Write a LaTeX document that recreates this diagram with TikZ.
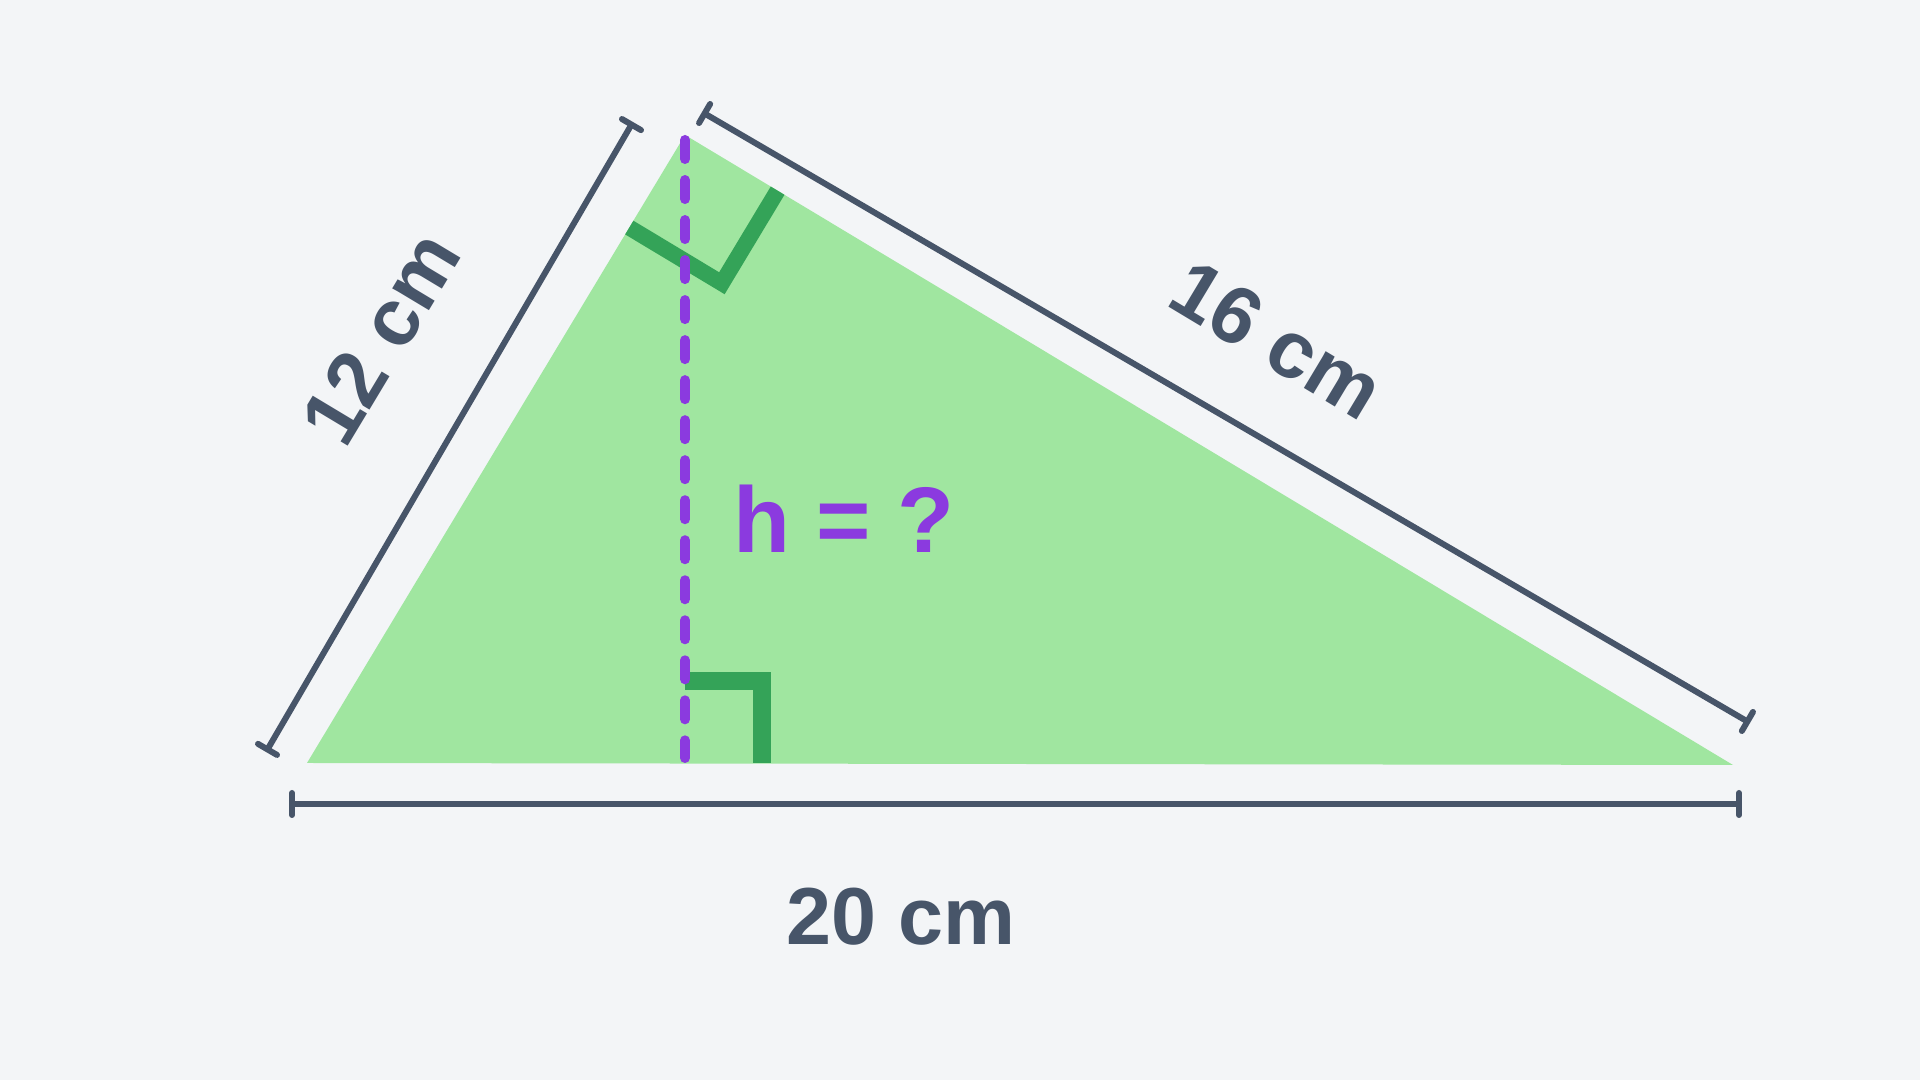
\documentclass[tikz,border=0pt]{standalone}
\usepackage{fontspec}
\setmainfont{Liberation Sans}
\usetikzlibrary{calc}
\usetikzlibrary{arrows.meta}

\definecolor{bgcol}{HTML}{F3F5F7}
\definecolor{trifill}{HTML}{A0E6A0}
\definecolor{markgreen}{HTML}{34A358}
\definecolor{hpurple}{HTML}{8B3ADF}
\definecolor{slate}{HTML}{475569}

\begin{document}
\begin{tikzpicture}[x=0.01cm,y=-0.01cm,
  dimline/.style={draw=slate, line width=0.06cm, {Bar[width=0.22cm,round]}-{Bar[width=0.22cm,round]}},
  dimlabel/.style={text=slate, inner sep=0pt, font=\fontsize{23}{28}\selectfont\bfseries},
  anglemark/.style={draw=markgreen, line width=0.18cm}]

  \fill[bgcol] (0,0) rectangle (1920,1080);
  \useasboundingbox (0,0) rectangle (1920,1080);

  \coordinate (B) at (307,763);
  \coordinate (A) at (685,135);
  \coordinate (C) at (1733,765);
  \coordinate (H) at (685,763);

  \fill[trifill] (B) -- (A) -- (C) -- cycle;

  % right angle at the apex
  \coordinate (a1) at ($(A)!1.08cm!(B)$);
  \coordinate (a2) at ($(A)!1.08cm!(C)$);
  \draw[anglemark, line width=0.16cm] (a1) -- ($(a1)+(a2)-(A)$) -- (a2);

  % right angle at the foot
  \draw[anglemark] (H) ++(0,-82) -- ++(77,0) -- ++(0,82);

  % height
  \draw[hpurple, line width=0.1cm, line cap=round, dash pattern=on 0.19cm off 0.21cm]
    ($(A)+(0,5)$) -- ($(H)+(0,-5)$);

  \coordinate (d1a) at (266,752);
  \coordinate (d1b) at (633,122);
  \coordinate (d2a) at (702,112);
  \coordinate (d2b) at (1750,723);
  \coordinate (d3a) at (289,804);
  \coordinate (d3b) at (1742,804);
  \draw[dimline] (d1a) -- (d1b);
  \draw[dimline] (d2a) -- (d2b);
  \draw[dimline] (d3a) -- (d3b);

  \node(l12)[dimlabel, rotate=59] at (381,338) {12 cm};
  \node(l16)[dimlabel, rotate=-31] at (1277,340) {16 cm};
  \node(l20)[dimlabel] at (901,917) {20 cm};
  \node(hq)[text=hpurple, inner sep=0pt, font=\fontsize{26.5}{32}\selectfont\bfseries] at (844,519) {h = ?};

\end{tikzpicture}
\end{document}
